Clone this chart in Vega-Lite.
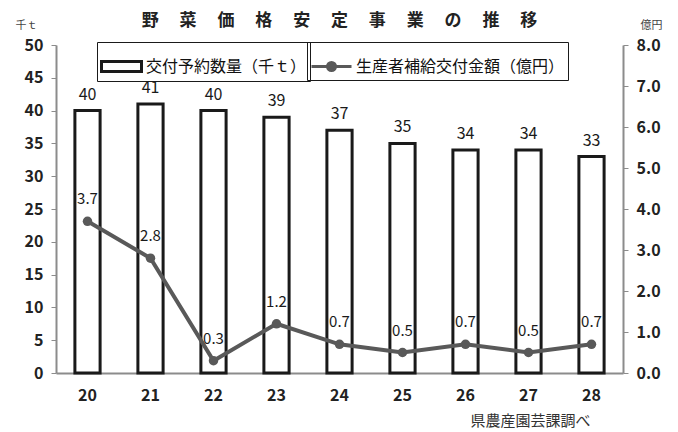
{
  "$schema": "https://vega.github.io/schema/vega-lite/v6.json",
  "width": 567,
  "height": 328,
  "autosize": "none",
  "padding": {"left": 56, "top": 45, "right": 55, "bottom": 59},
  "background": "white",
  "config": {
    "font": "Noto Sans CJK JP",
    "view": {"stroke": null},
    "legend": {
      "orient": "none",
      "direction": "horizontal",
      "strokeColor": "#1a1a1a",
      "padding": 3,
      "labelFontSize": 16,
      "labelColor": "#111111",
      "labelOffset": 3,
      "labelLimit": 400,
      "symbolSize": 1600,
      "symbolStrokeWidth": 3
    }
  },
  "title": {
    "text": "野\u3000  菜\u3000  価\u3000  格\u3000  安\u3000  定\u3000  事\u3000  業\u3000  の\u3000  推\u3000  移",
    "fontSize": 17,
    "fontWeight": "bold",
    "color": "#222222",
    "offset": -11,
    "anchor": "middle"
  },
  "data": {
    "values": [
      {"year": "20", "qty": 40, "amt": 3.7, "s1": "交付予約数量（千ｔ）", "s2": "生産者補給交付金額（億円）"},
      {"year": "21", "qty": 41, "amt": 2.8, "s1": "交付予約数量（千ｔ）", "s2": "生産者補給交付金額（億円）"},
      {"year": "22", "qty": 40, "amt": 0.3, "s1": "交付予約数量（千ｔ）", "s2": "生産者補給交付金額（億円）"},
      {"year": "23", "qty": 39, "amt": 1.2, "s1": "交付予約数量（千ｔ）", "s2": "生産者補給交付金額（億円）"},
      {"year": "24", "qty": 37, "amt": 0.7, "s1": "交付予約数量（千ｔ）", "s2": "生産者補給交付金額（億円）"},
      {"year": "25", "qty": 35, "amt": 0.5, "s1": "交付予約数量（千ｔ）", "s2": "生産者補給交付金額（億円）"},
      {"year": "26", "qty": 34, "amt": 0.7, "s1": "交付予約数量（千ｔ）", "s2": "生産者補給交付金額（億円）"},
      {"year": "27", "qty": 34, "amt": 0.5, "s1": "交付予約数量（千ｔ）", "s2": "生産者補給交付金額（億円）"},
      {"year": "28", "qty": 33, "amt": 0.7, "s1": "交付予約数量（千ｔ）", "s2": "生産者補給交付金額（億円）"}
    ]
  },
  "encoding": {
    "x": {
      "field": "year",
      "type": "ordinal",
      "scale": {"paddingInner": 0.6, "paddingOuter": 0.3},
      "axis": {
        "labelAngle": 0,
        "labelFontSize": 16,
        "labelFontWeight": "bold",
        "labelColor": "#222222",
        "labelPadding": 14,
        "ticks": false,
        "domainColor": "#8c8c8c",
        "domainWidth": 2,
        "title": "県農産園芸課調べ",
        "titleFontSize": 15,
        "titleFontWeight": "normal",
        "titleColor": "#333333",
        "titleAnchor": "end",
        "titleAlign": "right",
        "titleBaseline": "middle",
        "titleX": 534,
        "titleY": 47
      }
    }
  },
  "layer": [
    {
      "encoding": {
        "y": {
          "field": "qty",
          "type": "quantitative",
          "scale": {"domain": [0, 50]},
          "axis": {
            "values": [0, 5, 10, 15, 20, 25, 30, 35, 40, 45, 50],
            "labelOverlap": false,
            "grid": false,
            "labelFontSize": 16,
            "labelFontWeight": "bold",
            "labelColor": "#222222",
            "labelPadding": 8,
            "tickColor": "#8c8c8c",
            "tickSize": 5,
            "domainColor": "#8c8c8c",
            "domainWidth": 2,
            "title": "千ｔ",
            "titleAngle": 0,
            "titleFontSize": 11,
            "titleFontWeight": "normal",
            "titleColor": "#444444",
            "titleX": -30,
            "titleY": -20,
            "titleAlign": "center",
            "titleBaseline": "middle"
          }
        }
      },
      "layer": [
        {
          "mark": {"type": "bar", "stroke": "#1a1a1a", "strokeWidth": 3},
          "encoding": {
            "fill": {
              "field": "s1",
              "type": "nominal",
              "scale": {"range": ["white"]},
              "legend": {
                "title": null,
                "legendX": 41,
                "legendY": -3,
                "symbolType": "M-1,-0.25H1V0.25H-1Z",
                "symbolFillColor": "white",
                "symbolStrokeColor": "#1a1a1a"
              }
            }
          }
        },
        {
          "mark": {"type": "text", "baseline": "bottom", "dy": -8, "fontSize": 16, "color": "#1a1a1a"},
          "encoding": {
            "text": {"field": "qty", "type": "quantitative"}
          }
        }
      ]
    },
    {
      "encoding": {
        "y": {
          "field": "amt",
          "type": "quantitative",
          "scale": {"domain": [0, 8]},
          "axis": {
            "orient": "right",
            "values": [0, 1, 2, 3, 4, 5, 6, 7, 8],
            "labelOverlap": false,
            "format": ".1f",
            "grid": false,
            "labelFontSize": 16,
            "labelFontWeight": "bold",
            "labelColor": "#222222",
            "labelPadding": 8,
            "tickColor": "#8c8c8c",
            "tickSize": 5,
            "domainColor": "#8c8c8c",
            "domainWidth": 2,
            "title": "億円",
            "titleAngle": 0,
            "titleFontSize": 11,
            "titleFontWeight": "normal",
            "titleColor": "#444444",
            "titleX": 28,
            "titleY": -20,
            "titleAlign": "center",
            "titleBaseline": "middle"
          }
        }
      },
      "layer": [
        {
          "mark": {"type": "line", "strokeWidth": 4},
          "encoding": {
            "stroke": {
              "field": "s2",
              "type": "nominal",
              "scale": {"range": ["#595959"]},
              "legend": {
                "title": null,
                "legendX": 251,
                "legendY": -3,
                "symbolType": "M-1,0H1M-0.2,0A0.2,0.2,0,1,1,0.2,0A0.2,0.2,0,1,1,-0.2,0",
                "symbolFillColor": "#595959",
                "symbolStrokeColor": "#595959"
              }
            }
          }
        },
        {
          "mark": {"type": "point", "filled": true, "size": 90, "color": "#595959", "opacity": 1},
          "encoding": {}
        },
        {
          "mark": {"type": "text", "baseline": "bottom", "dy": -14, "fontSize": 15, "color": "#1a1a1a"},
          "encoding": {
            "text": {"field": "amt", "type": "quantitative", "format": ".1f"}
          }
        }
      ]
    }
  ],
  "resolve": {"scale": {"y": "independent"}}
}
